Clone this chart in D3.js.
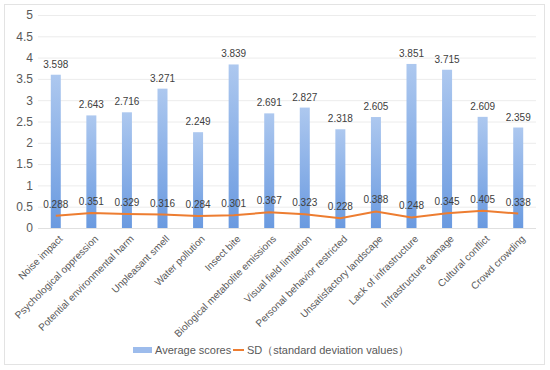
<!DOCTYPE html>
<html>
<head>
<meta charset="utf-8">
<script src="https://cdn.jsdelivr.net/npm/d3@7"></script>
<style>
  body { margin: 0; background: #fff; }
  svg { display: block; font-family: "Liberation Sans", Arial, sans-serif; }
</style>
</head>
<body>
<div id="chart"></div>
<script>
const categories = ["Noise impact", "Psychological oppression", "Potential environmental harm",
  "Unpleasant smell", "Water pollution", "Insect bite", "Biological metabolite emissions",
  "Visual field limitation", "Personal behavior restricted", "Unsatisfactory landscape",
  "Lack of infrastructure", "Infrastructure damage", "Cultural conflict", "Crowd crowding"];
const averageScores = [3.598, 2.643, 2.716, 3.271, 2.249, 3.839, 2.691, 2.827, 2.318, 2.605, 3.851, 3.715, 2.609, 2.359];
const sdValues = [0.288, 0.351, 0.329, 0.316, 0.284, 0.301, 0.367, 0.323, 0.228, 0.388, 0.248, 0.345, 0.405, 0.338];
const yTicks = [0, 0.5, 1, 1.5, 2, 2.5, 3, 3.5, 4, 4.5, 5];
const seriesNames = ["Average scores", "SD（standard deviation values）"];

const width = 550, height = 370;
const marginLeft = 38, marginRight = 14, marginTop = 15, marginBottom = 142;
const textColor = "#595959";

const svg = d3.select("#chart").append("svg")
    .attr("width", width)
    .attr("height", height)
    .attr("viewBox", [0, 0, width, height]);

// gradient for the bars
const defs = svg.append("defs");
const grad = defs.append("linearGradient")
    .attr("id", "barGrad")
    .attr("x1", 0).attr("y1", 0).attr("x2", 0).attr("y2", 1);
grad.append("stop").attr("offset", "0%").attr("stop-color", "#adc8ef");
grad.append("stop").attr("offset", "100%").attr("stop-color", "#6a9ae0");

// outer frame
svg.append("rect")
    .attr("x", 4.5).attr("y", 4.5)
    .attr("width", 540).attr("height", 360)
    .attr("fill", "#fff")
    .attr("stroke", "#e3e3e3");

const x = d3.scaleBand(categories, [marginLeft, width - marginRight]);
const y = d3.scaleLinear([0, 5], [height - marginBottom, marginTop]);

// y axis + grid
svg.append("g")
    .attr("transform", `translate(${marginLeft},0)`)
    .call(d3.axisLeft(y).tickValues(yTicks).tickSize(0).tickPadding(5).tickFormat(d3.format("")))
    .call(g => g.select(".domain").remove())
    .call(g => g.selectAll(".tick line").clone()
        .attr("x2", width - marginLeft - marginRight)
        .attr("stroke", "#ececec"))
    .call(g => g.selectAll(".tick text")
        .attr("fill", textColor)
        .attr("font-size", 12));

// bars
const barW = 10;
svg.append("g")
  .selectAll("rect")
  .data(averageScores)
  .join("rect")
    .attr("x", (d, i) => x(categories[i]) + x.bandwidth() / 2 - barW / 2)
    .attr("y", d => y(d))
    .attr("width", barW)
    .attr("height", d => y(0) - y(d))
    .attr("fill", "url(#barGrad)");

// bar value labels
svg.append("g")
  .selectAll("text")
  .data(averageScores)
  .join("text")
    .attr("x", (d, i) => x(categories[i]) + x.bandwidth() / 2)
    .attr("y", d => y(d) - 7)
    .attr("text-anchor", "middle")
    .attr("font-size", 10)
    .attr("fill", "#404040")
    .text(d => d3.format(".3f")(d));

// SD line
const line = d3.line()
    .x((d, i) => x(categories[i]) + x.bandwidth() / 2)
    .y(d => y(d));
svg.append("path")
    .datum(sdValues)
    .attr("fill", "none")
    .attr("stroke", "#ed7d31")
    .attr("stroke-width", 2)
    .attr("d", line);

svg.append("g")
  .selectAll("text")
  .data(sdValues)
  .join("text")
    .attr("x", (d, i) => x(categories[i]) + x.bandwidth() / 2)
    .attr("y", d => y(d) - 8)
    .attr("text-anchor", "middle")
    .attr("font-size", 10)
    .attr("fill", "#404040")
    .text(d => d3.format(".3f")(d));

// x axis line
svg.append("line")
    .attr("x1", marginLeft).attr("x2", width - marginRight)
    .attr("y1", y(0) + 0.5).attr("y2", y(0) + 0.5)
    .attr("stroke", "#e0e0e0");

// rotated category labels
svg.append("g")
  .selectAll("text")
  .data(categories)
  .join("text")
    .attr("transform", d => `translate(${x(d) + x.bandwidth() / 2 + 5},${y(0) + 9}) rotate(-45)`)
    .attr("text-anchor", "end")
    .attr("dy", "0.35em")
    .attr("font-size", 10)
    .attr("fill", textColor)
    .text(d => d);

// legend
const legend = svg.append("g").attr("font-size", 11).attr("fill", textColor);
legend.append("rect")
    .attr("x", 133).attr("y", 347)
    .attr("width", 19).attr("height", 6)
    .attr("fill", "#9dbcec");
legend.append("text")
    .attr("x", 155).attr("y", 354)
    .text(seriesNames[0]);
legend.append("line")
    .attr("x1", 233).attr("x2", 244)
    .attr("y1", 350).attr("y2", 350)
    .attr("stroke", "#ed7d31")
    .attr("stroke-width", 2);
legend.append("text")
    .attr("x", 247).attr("y", 354)
    .text(seriesNames[1]);
</script>
</body>
</html>
